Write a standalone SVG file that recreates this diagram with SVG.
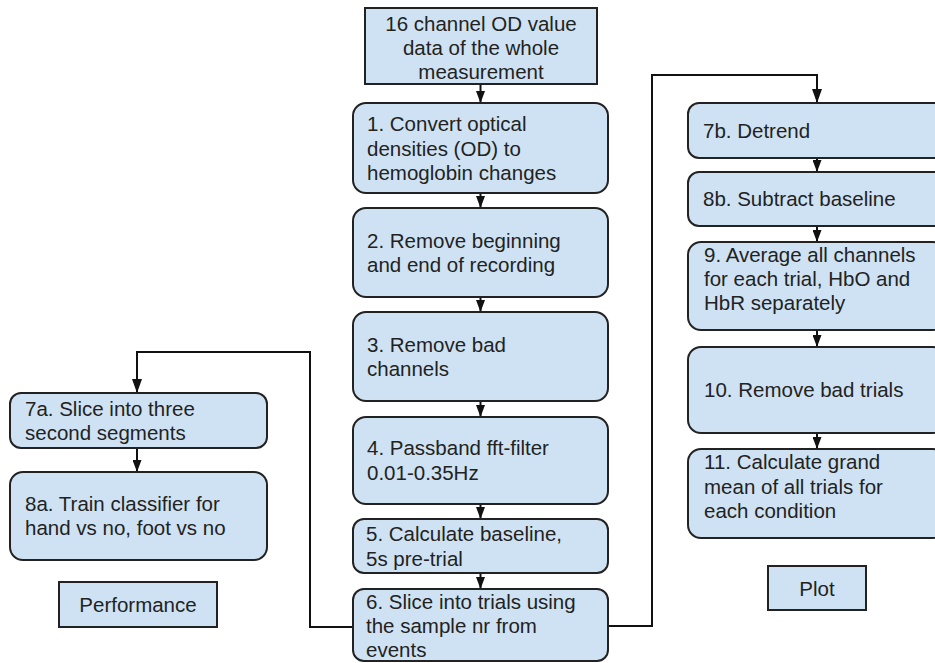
<svg xmlns="http://www.w3.org/2000/svg" width="935" height="663" viewBox="0 0 935 663">
  <style>
    .box { fill: #cfe2f3; stroke: #222; stroke-width: 2; }
    .lbl { font-family: "Liberation Sans", Arial, sans-serif; font-size: 20.5px; fill: #222; }
    .mid { text-anchor: middle; }
    .wire { fill: none; stroke: #111; stroke-width: 2; }
  </style>
  <defs>
    <marker id="tip" viewBox="0 0 12 9" refX="12" refY="4.5" markerWidth="12" markerHeight="9" orient="auto" markerUnits="userSpaceOnUse">
      <path d="M0,0 L12,4.5 L0,9 z" fill="#111"/>
    </marker>
    <marker id="tipBig" viewBox="0 0 14 10" refX="14" refY="5" markerWidth="14" markerHeight="10" orient="auto" markerUnits="userSpaceOnUse">
      <path d="M0,0 L14,5 L0,10 z" fill="#111"/>
    </marker>
  </defs>

  <!-- connectors -->
  <g id="connectors">
    <line class="wire" x1="480.5" y1="84" x2="480.5" y2="103" marker-end="url(#tip)"/>
    <line class="wire" x1="480.5" y1="193" x2="480.5" y2="208" marker-end="url(#tip)"/>
    <line class="wire" x1="480.5" y1="297" x2="480.5" y2="312" marker-end="url(#tip)"/>
    <line class="wire" x1="480.5" y1="401" x2="480.5" y2="417" marker-end="url(#tip)"/>
    <line class="wire" x1="480.5" y1="504" x2="480.5" y2="519" marker-end="url(#tip)"/>
    <line class="wire" x1="480.5" y1="573" x2="480.5" y2="589" marker-end="url(#tip)"/>
    <polyline class="wire" points="353,627 310,627 310,352 137,352 137,393" marker-end="url(#tipBig)"/>
    <line class="wire" x1="137" y1="448" x2="137" y2="472" marker-end="url(#tip)"/>
    <polyline class="wire" points="608,626 652,626 652,75 817,75 817,103" marker-end="url(#tipBig)"/>
    <line class="wire" x1="817" y1="158" x2="817" y2="172" marker-end="url(#tip)"/>
    <line class="wire" x1="817" y1="226" x2="817" y2="242" marker-end="url(#tip)"/>
    <line class="wire" x1="817" y1="330" x2="817" y2="347" marker-end="url(#tip)"/>
    <line class="wire" x1="817" y1="433" x2="817" y2="449" marker-end="url(#tip)"/>
  </g>

  <!-- centre column -->
  <g id="input">
    <rect class="box" x="365" y="8" width="232" height="76"/>
    <text class="lbl mid" x="481" y="31">16 channel OD value</text>
    <text class="lbl mid" x="481" y="55">data of the whole</text>
    <text class="lbl mid" x="481" y="79">measurement</text>
  </g>
  <g id="step1">
    <rect class="box" x="353" y="103" width="255" height="90" rx="13"/>
    <text class="lbl" x="367" y="131">1. Convert optical</text>
    <text class="lbl" x="367" y="156">densities (OD) to</text>
    <text class="lbl" x="367" y="180">hemoglobin changes</text>
  </g>
  <g id="step2">
    <rect class="box" x="353" y="208" width="255" height="89" rx="13"/>
    <text class="lbl" x="367" y="248">2. Remove beginning</text>
    <text class="lbl" x="367" y="272">and end of recording</text>
  </g>
  <g id="step3">
    <rect class="box" x="353" y="312" width="255" height="89" rx="13"/>
    <text class="lbl" x="367" y="352">3. Remove bad</text>
    <text class="lbl" x="367" y="376">channels</text>
  </g>
  <g id="step4">
    <rect class="box" x="353" y="417" width="255" height="87" rx="13"/>
    <text class="lbl" x="367" y="455">4. Passband fft-filter</text>
    <text class="lbl" x="367" y="480">0.01-0.35Hz</text>
  </g>
  <g id="step5">
    <rect class="box" x="353" y="519" width="255" height="54" rx="11"/>
    <text class="lbl" x="366" y="541">5. Calculate baseline,</text>
    <text class="lbl" x="366" y="566">5s pre-trial</text>
  </g>
  <g id="step6">
    <rect class="box" x="353" y="589" width="255" height="72" rx="11"/>
    <text class="lbl" x="366" y="609">6. Slice into trials using</text>
    <text class="lbl" x="366" y="633">the sample nr from</text>
    <text class="lbl" x="366" y="657">events</text>
  </g>

  <!-- left column -->
  <g id="step7a">
    <rect class="box" x="10" y="393" width="257" height="55" rx="11"/>
    <text class="lbl" x="25" y="416">7a. Slice into three</text>
    <text class="lbl" x="25" y="440">second segments</text>
  </g>
  <g id="step8a">
    <rect class="box" x="10" y="472" width="257" height="88" rx="13"/>
    <text class="lbl" x="25" y="511">8a. Train classifier for</text>
    <text class="lbl" x="25" y="535">hand vs no, foot vs no</text>
  </g>
  <g id="performance">
    <rect class="box" x="59" y="582" width="158" height="45"/>
    <text class="lbl mid" x="138" y="612">Performance</text>
  </g>

  <!-- right column -->
  <g id="step7b">
    <rect class="box" x="688" y="103" width="258" height="55" rx="11"/>
    <text class="lbl" x="703" y="138">7b. Detrend</text>
  </g>
  <g id="step8b">
    <rect class="box" x="688" y="172" width="258" height="54" rx="11"/>
    <text class="lbl" x="703" y="206">8b. Subtract baseline</text>
  </g>
  <g id="step9">
    <rect class="box" x="688" y="242" width="258" height="88" rx="13"/>
    <text class="lbl" x="704" y="262">9. Average all channels</text>
    <text class="lbl" x="704" y="286">for each trial, HbO and</text>
    <text class="lbl" x="704" y="310">HbR separately</text>
  </g>
  <g id="step10">
    <rect class="box" x="688" y="347" width="258" height="86" rx="13"/>
    <text class="lbl" x="704" y="397">10. Remove bad trials</text>
  </g>
  <g id="step11">
    <rect class="box" x="688" y="449" width="258" height="89" rx="13"/>
    <text class="lbl" x="704" y="469">11. Calculate grand</text>
    <text class="lbl" x="704" y="494">mean of all trials for</text>
    <text class="lbl" x="704" y="518">each condition</text>
  </g>
  <g id="plot">
    <rect class="box" x="768" y="566" width="98" height="44"/>
    <text class="lbl mid" x="817" y="596">Plot</text>
  </g>
</svg>
